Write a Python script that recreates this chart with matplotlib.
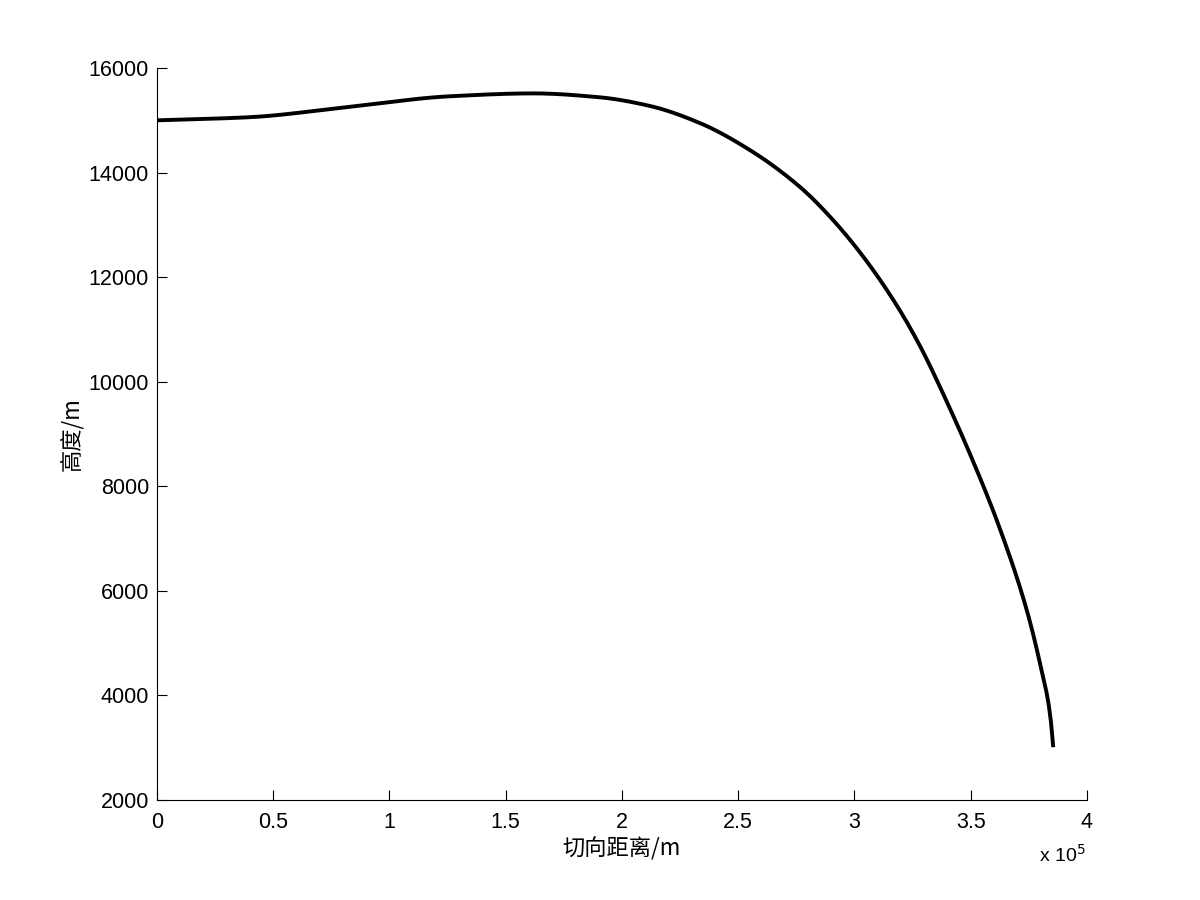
#!/usr/bin/env python3
import numpy as np
import matplotlib
matplotlib.use('Agg')
import matplotlib.pyplot as plt
from matplotlib.ticker import FuncFormatter

plt.rcParams['font.family'] = ['Liberation Sans', 'Noto Sans CJK SC', 'DejaVu Sans']

# trajectory (m)
dist_m = [0, 0.40e5, 0.83e5, 1.26e5, 1.62e5, 1.905e5, 2.12e5, 2.335e5, 2.55e5,
          2.766e5, 2.895e5, 3.038e5, 3.181e5, 3.282e5, 3.382e5, 3.526e5,
          3.626e5, 3.741e5, 3.798e5, 3.841e5, 3.855e5]
height_m = [15000, 15060, 15260, 15460, 15515, 15440, 15275, 14948, 14432,
            13724, 13156, 12391, 11467, 10683, 9765, 8311,
            7183, 5634, 4614, 3658, 3010]

x_ticks = [0, 0.5e5, 1e5, 1.5e5, 2e5, 2.5e5, 3e5, 3.5e5, 4e5]
y_ticks = [2000, 4000, 6000, 8000, 10000, 12000, 14000, 16000]


def smooth(x, y, n=400):
    # monotone cubic (PCHIP-like) through the read points
    x = np.asarray(x, float)
    y = np.asarray(y, float)
    h = np.diff(x)
    d = np.diff(y) / h
    m = np.zeros_like(y)
    for i in range(1, len(x) - 1):
        if d[i - 1] * d[i] > 0:
            w1 = 2 * h[i] + h[i - 1]
            w2 = h[i] + 2 * h[i - 1]
            m[i] = (w1 + w2) / (w1 / d[i - 1] + w2 / d[i])
    m[0] = d[0]
    m[-1] = d[-1]
    xx = np.linspace(x[0], x[-1], n)
    idx = np.clip(np.searchsorted(x, xx) - 1, 0, len(h) - 1)
    t = (xx - x[idx]) / h[idx]
    h00 = 2 * t**3 - 3 * t**2 + 1
    h10 = t**3 - 2 * t**2 + t
    h01 = -2 * t**3 + 3 * t**2
    h11 = t**3 - t**2
    yy = h00 * y[idx] + h10 * h[idx] * m[idx] + h01 * y[idx + 1] + h11 * h[idx] * m[idx + 1]
    return xx, yy


fig = plt.figure(figsize=(12, 9), dpi=100)
ax = fig.add_axes([0.1308, 0.1111, 0.775, 0.8133])

xx, yy = smooth(dist_m, height_m)
ax.plot(xx, yy, color='black', linewidth=2.8, solid_capstyle='butt')

ax.set_xlim(0, 4e5)
ax.set_ylim(2000, 16000)
ax.set_xticks(x_ticks)
ax.set_yticks(y_ticks)
ax.xaxis.set_major_formatter(FuncFormatter(lambda v, p: f'{v / 1e5:g}'))
ax.spines['top'].set_visible(False)
ax.spines['right'].set_visible(False)
ax.tick_params(direction='in', length=7, width=0.8, labelsize=15.5, top=False, right=False)
ax.tick_params(axis='x', pad=8.5)
ax.tick_params(axis='y', pad=5.7)

cjk = ['Noto Sans CJK SC', 'Liberation Sans']
ax.set_xlabel('切向距离/m', fontsize=16, family=cjk, labelpad=3)
ax.set_ylabel('高度/m', fontsize=16, family=cjk, labelpad=4)
fig.text(0.866, 0.043, 'x 10$^5$', fontsize=14)

fig.savefig('out.png')
